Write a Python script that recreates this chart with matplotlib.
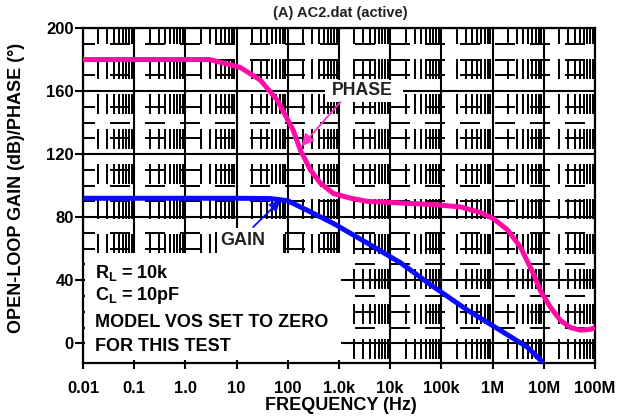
import numpy as np
import matplotlib
matplotlib.use("Agg")
from matplotlib import pyplot as plt
from matplotlib.ticker import FixedLocator, NullFormatter
from matplotlib.patches import Rectangle

plt.rcParams['font.family'] = ['Liberation Sans', 'DejaVu Sans']
plt.rcParams['font.weight'] = 'bold'
plt.rcParams['mathtext.fontset'] = 'custom'
plt.rcParams['mathtext.rm'] = 'Liberation Sans:bold'
plt.rcParams['mathtext.default'] = 'rm'
plt.rcParams['lines.scale_dashes'] = False

# open-loop phase (deg) vs frequency (Hz)
phase_freq = [0.01, 0.1, 1, 3, 11.8, 29, 63, 128, 176, 276, 433, 780, 1.7e3,
              3.6e3, 16e3, 69e3, 236e3, 577e3, 1.04e6, 1.95e6, 3.5e6, 6.3e6,
              8.5e6, 13.4e6, 21e6, 33e6, 52e6, 82e6, 100e6]
phase_deg = [180, 180, 180, 180, 175, 167, 154, 135, 122.5, 110, 101.6, 95, 92,
             90, 89, 88, 86.5, 83, 79, 72, 61, 44,
             33.6, 23, 14.6, 10, 8.3, 8.9, 10]

# open-loop gain (dB) vs frequency (Hz)
gain_freq = [0.01, 0.1, 1, 10, 46, 98, 176, 276, 780, 3.6e3, 16e3, 69e3,
             323e3, 1.4e6, 4.8e6, 9.8e6]
gain_db = [92, 92, 92, 92, 91.8, 90.5, 86.5, 83.4, 76, 63.5, 51, 36,
           21, 8.3, -2.5, -12.5]

xticks = [0.01, 0.1, 1, 10, 100, 1e3, 1e4, 1e5, 1e6, 1e7, 1e8]
xticklabels = ['0.01', '0.1', '1.0', '10', '100', '1.0k', '10k', '100k',
               '1M', '10M', '100M']
yticks = [0, 40, 80, 120, 160, 200]

notes = ['R$_{L}$ = 10k', 'C$_{L}$ = 10pF', 'MODEL VOS SET TO ZERO',
         'FOR THIS TEST']

PINK = '#ff0ca6'
BLUE = '#0a0aff'

fig = plt.figure(figsize=(6.39, 4.2), dpi=100)
ax = fig.add_axes([83/639, 1-363/420, 512/639, 335/420])

ax.set_xscale('log')
ax.set_xlim(0.01, 1e8)
ax.set_ylim(-12.5, 200)

ax.set_xticks(xticks)
ax.set_xticklabels(xticklabels)
ax.xaxis.set_minor_locator(FixedLocator(
    [m * d for d in xticks[:-1] for m in range(2, 10)]))
ax.xaxis.set_minor_formatter(NullFormatter())
ax.set_yticks(yticks)
ax.yaxis.set_minor_locator(FixedLocator([v for v in range(10, 200, 10) if v % 40]))

ax.tick_params(which='major', axis='x', direction='out', length=4, width=1.5,
               pad=9, labelsize=12)
ax.tick_params(which='major', axis='y', direction='out', length=6, width=1.5,
               pad=0.5, labelsize=12)
ax.tick_params(which='minor', length=0)
for s in ax.spines.values():
    s.set_linewidth(1.6)

# grid: solid major lines, broken minor lines
px = 0.72
ax.set_axisbelow(True)
ax.grid(which='major', color='k', lw=1.5, ls='-')
ax.grid(which='minor', axis='x', color='k', lw=1.4,
        ls=(31*px, (20*px, 15*px)))
ax.grid(which='minor', axis='y', color='k', lw=1.4,
        ls=(8*px, (20*px, 15*px)))

ax.plot(phase_freq, phase_deg, color=PINK, lw=3.6, zorder=4,
        solid_capstyle='butt', solid_joinstyle='round')
ax.plot(gain_freq, gain_db, color=BLUE, lw=3.6, zorder=4,
        solid_capstyle='butt', solid_joinstyle='round', clip_on=True)

# white boxes behind the labels
ax.add_patch(Rectangle((0.003, 0.009), 0.501, 0.319, transform=ax.transAxes,
                       facecolor='white', edgecolor='none', zorder=2))
ax.add_patch(Rectangle(((217-83)/512, (363-253)/335), 66/512, 25/335,
                       transform=ax.transAxes, facecolor='white',
                       edgecolor='none', zorder=2))
ax.add_patch(Rectangle(((325-83)/512, (363-102)/335), 78/512, 22/335,
                       transform=ax.transAxes, facecolor='white',
                       edgecolor='none', zorder=2))

for txt, yb in zip(notes, [0.254, 0.188, 0.107, 0.036]):
    ax.text(0.023, yb, txt, transform=ax.transAxes, fontsize=13,
            fontweight='bold', va='baseline', ha='left', zorder=5)

ax.text((243-83)/512, (363-245)/335, 'GAIN', transform=ax.transAxes,
        fontsize=13, fontweight='bold', ha='center', va='baseline',
        color='#222222', zorder=5)
ax.text((362-83)/512, (363-95)/335, 'PHASE', transform=ax.transAxes,
        fontsize=12.7, fontweight='bold', ha='center', va='baseline',
        color='#222222', zorder=5)

ax.annotate('', xy=(72, 90.8), xytext=(21, 73.7),
            arrowprops=dict(arrowstyle='-|>', color=BLUE, lw=1.3,
                            mutation_scale=16, shrinkA=0, shrinkB=0),
            zorder=6)
ax.annotate('', xy=(185, 125), xytext=(1070, 153),
            arrowprops=dict(arrowstyle='-|>', color='#ff33c8', lw=1.3,
                            mutation_scale=18, shrinkA=0, shrinkB=0),
            zorder=6)

fig.text(340/639, 1-13/420, '(A) AC2.dat (active)', ha='center', va='center',
         fontsize=10.5, fontweight='bold', color='#222222')
fig.text(341/639, 1-405/420, 'FREQUENCY (Hz)', ha='center', va='center',
         fontsize=13, fontweight='bold')
fig.text(17/639, 1-188/420, 'OPEN-LOOP GAIN (dB)/PHASE (°)', ha='center',
         va='center', rotation=90, fontsize=13, fontweight='bold')

fig.savefig('out.png', dpi=100)
